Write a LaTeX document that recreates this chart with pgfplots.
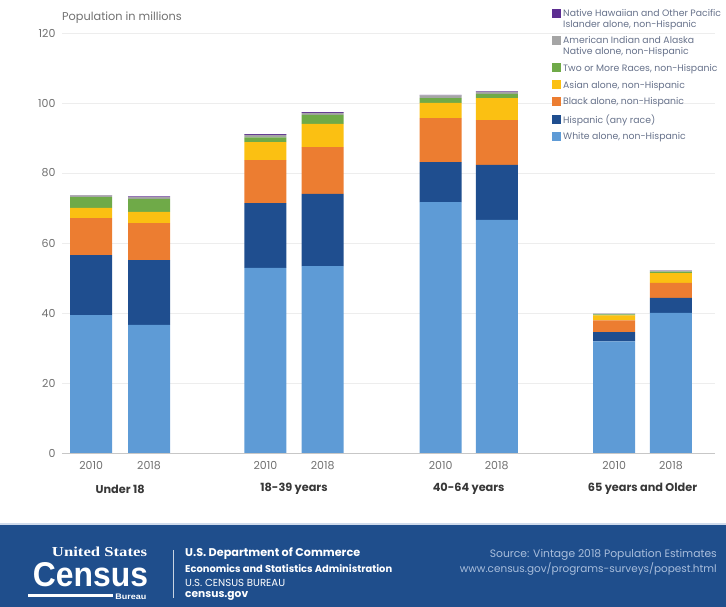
\documentclass[border=0pt]{standalone}
\usepackage{pgfplots}
\pgfplotsset{compat=1.18}
\usepackage{pgfplotstable}
\usepackage{graphicx}
\usepackage{fontspec}
\setmainfont{Poppins}
\newfontfamily\logofont{Liberation Sans}
\newfontfamily\logoserif{Liberation Serif}

\definecolor{cWhite}{HTML}{5E9BD6}
\definecolor{cHisp}{HTML}{1F4E8F}
\definecolor{cBlack}{HTML}{EC7D31}
\definecolor{cAsian}{HTML}{FBC012}
\definecolor{cTwo}{HTML}{6FAA48}
\definecolor{cAian}{HTML}{A5A5A5}
\definecolor{cNhpi}{HTML}{5C2D91}
\definecolor{labelgray}{HTML}{707070}
\definecolor{catgray}{HTML}{383838}
\definecolor{leggray}{HTML}{66718A}
\definecolor{band}{HTML}{1F4E8C}
\definecolor{srcblue}{HTML}{A9BEDC}

% bars: Under 18, 18-39, 40-64, 65+ ; each 2010 then 2018
\pgfplotstableread{
x     white hisp black asian two aian nhpi
0.00  39.4  17.1 10.6  2.9   3.1 0.5  0.1
1.01  36.6  18.5 10.6  3.2   3.7 0.5  0.2
3.04  52.9  18.5 12.3  5.1   1.4 0.7  0.2
4.04  53.4  20.6 13.4  6.6   2.6 0.6  0.2
6.10  71.7  11.4 12.6  4.3   1.4 0.8  0.1
7.08  66.6  15.7 12.8  6.3   1.2 0.6  0.1
9.13  31.9   2.6  3.4  1.4   0.3 0.2  0.05
10.12 40.0   4.3  4.3  2.8   0.4 0.3  0.05
}\pop

% square legend marks; the two-line entries have theirs beside the first line
\pgfplotsset{
  sqleg/.style={legend image code/.code={\fill[##1] (0pt,-1.2pt) rectangle (9pt,7.8pt);}},
  sqlegtwo/.style={legend image code/.code={\fill[##1] (0pt,9.3pt) rectangle (9pt,18.3pt);}},
}
\newcommand{\twoline}[2]{\vbox{\hbox{\strut #1}\hbox{\strut #2}}}

\begin{document}
\begin{tikzpicture}
\useasboundingbox (-62pt,-154pt) rectangle (664pt,453pt);
\begin{axis}[
  scale only axis, width=653pt, height=420pt,
  xmin=-0.51, xmax=10.89, ymin=0, ymax=120,
  ybar stacked, bar width=42pt,
  xtick={0,1.01,3.04,4.04,6.10,7.08,9.13,10.12},
  xticklabels={2010,2018,2010,2018,2010,2018,2010,2018},
  ytick={0,20,...,120},
  ymajorgrids, grid style={draw=black!7, line width=0.7pt},
  axis line style={draw=none},
  major tick length=0pt,
  tick label style={font=\fontsize{11}{12}\selectfont, text=labelgray},
  /pgf/number format/assume math mode=true,
  yticklabel style={xshift=-3pt},
  xticklabel style={yshift=-5pt},
  reverse legend,
  legend style={at={(0.7504,1.062)}, anchor=north west, draw=none, fill=none,
    inner sep=0pt, font=\fontsize{9.3}{10.5}\selectfont, text=leggray,
    cells={anchor=base west, inner sep=1pt, execute at begin node=\strut}, row sep=4pt,
    /tikz/every even column/.append style={column sep=5pt}},
  clip=false,
]
\addplot[fill=cWhite, draw=none, sqleg] table[x=x, y=white] {\pop};
\addlegendentry{White alone, non-Hispanic}
\addplot[fill=cHisp, draw=none, sqleg] table[x=x, y=hisp] {\pop};
\addlegendentry{Hispanic (any race)}
\addplot[fill=cBlack, draw=none, sqleg] table[x=x, y=black] {\pop};
\addlegendentry{Black alone, non-Hispanic}
\addplot[fill=cAsian, draw=none, sqleg] table[x=x, y=asian] {\pop};
\addlegendentry{Asian alone, non-Hispanic}
\addplot[fill=cTwo, draw=none, sqleg] table[x=x, y=two] {\pop};
\addlegendentry{Two or More Races, non-Hispanic}
\addplot[fill=cAian, draw=none, sqlegtwo] table[x=x, y=aian] {\pop};
\addlegendentry{\twoline{American Indian and Alaska}{Native alone, non-Hispanic}}
\addplot[fill=cNhpi, draw=none, sqlegtwo] table[x=x, y=nhpi] {\pop};
\addlegendentry{\twoline{Native Hawaiian and Other Pacific}{Islander alone, non-Hispanic}}

\draw[black!22, line width=0.8pt] (axis cs:-0.51,0) -- (axis cs:10.89,0);
\node[anchor=west, inner sep=0pt, font=\fontsize{11.3}{12}\selectfont, text=labelgray]
  at (rel axis cs:0,1) [yshift=15pt] {Population in millions};
\node[font=\bfseries\fontsize{11.3}{12}\selectfont, text=catgray] at (axis cs:0.505,0) [yshift=-36pt] {Under 18};
\node[font=\bfseries\fontsize{11.3}{12}\selectfont, text=catgray] at (axis cs:3.54,0) [yshift=-36pt] {18-39 years};
\node[font=\bfseries\fontsize{11.3}{12}\selectfont, text=catgray] at (axis cs:6.59,0) [yshift=-36pt] {40-64 years};
\node[font=\bfseries\fontsize{11.3}{12}\selectfont, text=catgray] at (axis cs:9.625,0) [yshift=-36pt] {65 years and Older};
\end{axis}

% footer band
\fill[band] (-62pt,-154pt) rectangle (664pt,-72pt);
\draw[srcblue!55, line width=2pt] (-62pt,-71pt) -- (664pt,-71pt);
\node[white, inner sep=0pt] at (37.5pt,-99pt) {\resizebox{95pt}{9.5pt}{\logoserif\bfseries United States}};
\node[white, inner sep=0pt] at (28.5pt,-121.5pt) {\resizebox{115pt}{24pt}{\logofont\bfseries Census}};
\fill[white] (-34pt,-144pt) rectangle (51pt,-141pt);
\node[white, inner sep=0pt] at (69pt,-143.5pt) {\resizebox{31pt}{5.5pt}{\logofont\bfseries Bureau}};
\draw[white!75!band, line width=0.7pt] (111pt,-97pt) -- (111pt,-145pt);
\node[anchor=west, text=white, inner sep=0pt] at (123pt,-101pt) {\resizebox{175pt}{!}{\bfseries U.S. Department of Commerce}};
\node[anchor=west, text=white, inner sep=0pt] at (123pt,-116pt) {\resizebox{207pt}{!}{\bfseries Economics and Statistics Administration}};
\node[anchor=west, text=white, inner sep=0pt] at (123pt,-129.5pt) {\resizebox{100pt}{!}{U.S. CENSUS BUREAU}};
\node[anchor=west, text=white, inner sep=0pt] at (123pt,-143pt) {\resizebox{63pt}{!}{\bfseries census.gov}};
\node[anchor=east, text=srcblue, inner sep=0pt] at (655pt,-101.5pt) {\resizebox{227pt}{!}{Source: Vintage 2018 Population Estimates}};
\node[anchor=east, text=srcblue, inner sep=0pt] at (655pt,-115.5pt) {\resizebox{257pt}{!}{www.census.gov/programs-surveys/popest.html}};
\end{tikzpicture}
\end{document}
